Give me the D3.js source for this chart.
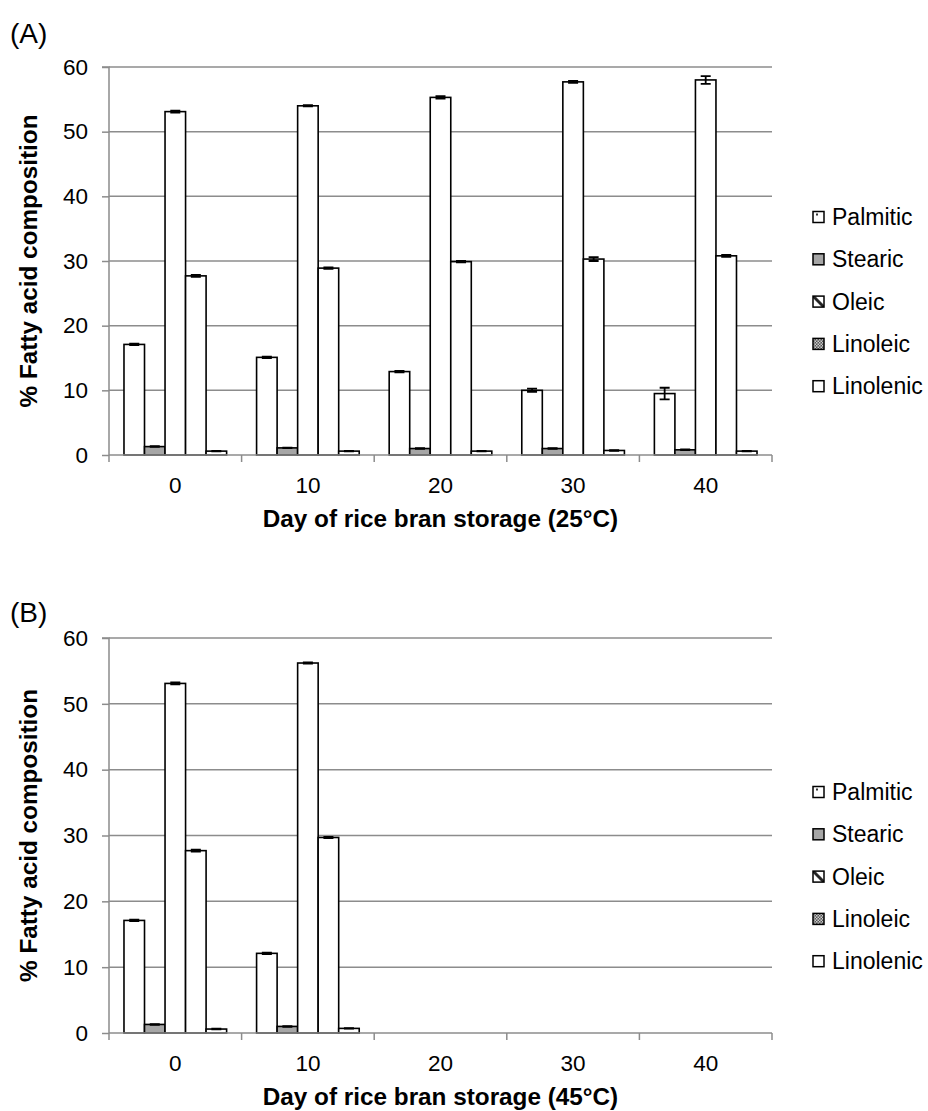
<!DOCTYPE html>
<html><head><meta charset="utf-8">
<script src="https://cdn.jsdelivr.net/npm/d3@7"></script>
<style>body{margin:0;background:#fff}svg{display:block;font-family:"Liberation Sans",Arial,sans-serif}</style>
</head><body><svg id="c" width="928" height="1111"></svg>
<script>
const days = ["0","10","20","30","40"];
const acids = ["Palmitic","Stearic","Oleic","Linoleic","Linolenic"];
const yTicks = [0,10,20,30,40,50,60];
// Panel A (25°C): values per acid across days
const palmiticA = [17.1,15.1,12.9,10.0,9.5];
const stearicA  = [1.3,1.1,1.0,1.0,0.8];
const oleicA    = [53.1,54.0,55.3,57.7,58.0];
const linoleicA = [27.7,28.9,29.9,30.3,30.8];
const linolenicA= [0.6,0.6,0.6,0.7,0.6];
const errA = [[0.1,0.1,0.1,0.25,0.9],[0.05,0.05,0.05,0.05,0.05],[0.15,0.1,0.2,0.15,0.6],[0.15,0.1,0.1,0.3,0.15],[0.05,0.05,0.05,0.05,0.05]];
// Panel B (45°C)
const palmiticB = [17.1,12.1,null,null,null];
const stearicB  = [1.3,1.0,null,null,null];
const oleicB    = [53.1,56.2,null,null,null];
const linoleicB = [27.7,29.7,null,null,null];
const linolenicB= [0.6,0.7,null,null,null];
const errB = [[0.1,0.1],[0.05,0.05],[0.15,0.1],[0.15,0.1],[0.05,0.05]];

const fills = {Palmitic:"url(#pPalm)",Stearic:"#a6a6a6",Oleic:"url(#pOle)",Linoleic:"url(#pLin)",Linolenic:"#fff"};
const barFills = {Palmitic:"#fff",Stearic:"#a6a6a6",Oleic:"#fff",Linoleic:"#fff",Linolenic:"#fff"};

const svg = d3.select("#c");
const defs = svg.append("defs");
let p = defs.append("pattern").attr("id","pPalm").attr("patternUnits","objectBoundingBox").attr("width",1).attr("height",1);
p.append("rect").attr("width",11).attr("height",11).attr("fill","#fff");
p.append("rect").attr("x",3).attr("y",2).attr("width",2).attr("height",2).attr("fill","#333");
p = defs.append("pattern").attr("id","pOle").attr("patternUnits","objectBoundingBox").attr("width",1).attr("height",1);
p.append("rect").attr("width",11).attr("height",11).attr("fill","#fff");
p.append("path").attr("d","M0,0 L11,11").attr("stroke","#222").attr("stroke-width",3);
p = defs.append("pattern").attr("id","pLin").attr("patternUnits","userSpaceOnUse").attr("width",3).attr("height",3);
p.append("rect").attr("width",3).attr("height",3).attr("fill","#555");
p.append("rect").attr("width",1.5).attr("height",1.5).attr("fill","#ccc");
p.append("rect").attr("x",1.5).attr("y",1.5).attr("width",1.5).attr("height",1.5).attr("fill","#ccc");

function panel(cfg){
  const {label, labelY, top, bottom, left, right, series, errs, xTitle, legendX, legendY0, legendStep} = cfg;
  const g = svg.append("g");
  const y = d3.scaleLinear().domain([0,60]).range([bottom, top]);
  const x0 = d3.scaleBand().domain(days).range([left,right]).padding(0);
  const x1 = d3.scaleBand().domain(acids).range([0,x0.bandwidth()]).paddingOuter(0.73).paddingInner(0);
  g.selectAll(".grid").data(yTicks.slice(1)).join("line")
    .attr("x1",left).attr("x2",right).attr("y1",d=>y(d)).attr("y2",d=>y(d))
    .attr("stroke","#8c8c8c").attr("stroke-width",1.5);
  const ya = g.append("g").attr("transform",`translate(${left},0)`)
    .call(d3.axisLeft(y).tickValues(yTicks).tickSize(7).tickPadding(14));
  ya.select(".domain").attr("stroke","#8c8c8c").attr("stroke-width",1.5).attr("d",`M-7,${top}H0V${bottom}`);
  ya.selectAll(".tick line").attr("stroke","#8c8c8c").attr("stroke-width",1.5);
  ya.selectAll("text").attr("font-size",22.5).attr("fill","#000").attr("font-family","Liberation Sans, Arial, sans-serif");
  acids.forEach((a,i)=>{
    const vals = series[i];
    const gs = g.append("g");
    days.forEach((d,j)=>{
      const v = vals[j];
      if(v==null) return;
      const bx = x0(d)+x1(a);
      gs.append("rect").attr("x",bx).attr("y",y(v)).attr("width",x1.bandwidth()).attr("height",y(0)-y(v))
        .attr("fill",barFills[a]).attr("stroke","#000").attr("stroke-width",1.6);
      const e = errs[i][j];
      const cx = bx + x1.bandwidth()/2;
      gs.append("path").attr("d",`M${cx-5},${y(v+e)}H${cx+5}M${cx},${y(v+e)}V${y(v-e)}M${cx-5},${y(v-e)}H${cx+5}`)
        .attr("stroke","#000").attr("stroke-width",1.8).attr("fill","none");
    });
  });
  g.append("line").attr("x1",left).attr("x2",right).attr("y1",bottom).attr("y2",bottom).attr("stroke","#8c8c8c").attr("stroke-width",1.5);
  const bounds = days.map(d=>x0(d)).concat([right]);
  g.selectAll(".xt").data(bounds).join("line").attr("x1",d=>d).attr("x2",d=>d).attr("y1",bottom).attr("y2",bottom+7)
    .attr("stroke","#8c8c8c").attr("stroke-width",1.5);
  g.selectAll(".xl").data(days).join("text").attr("x",d=>x0(d)+x0.bandwidth()/2).attr("y",bottom+38)
    .attr("text-anchor","middle").attr("font-size",22.5).text(d=>d);
  g.append("text").attr("x",(left+right)/2).attr("y",bottom+72).attr("text-anchor","middle")
    .attr("font-size",24.3).attr("font-weight","bold").text(xTitle);
  g.append("text").attr("transform",`translate(37,${(top+bottom)/2}) rotate(-90)`).attr("text-anchor","middle")
    .attr("font-size",24.3).attr("font-weight","bold").text("% Fatty acid composition");
  g.append("text").attr("x",10).attr("y",labelY).attr("font-size",28).text(label);
  acids.forEach((a,i)=>{
    const ly = legendY0 + i*legendStep;
    g.append("rect").attr("x",legendX).attr("y",ly-5.5).attr("width",11).attr("height",11)
      .attr("fill",fills[a]).attr("stroke","#000").attr("stroke-width",1.5);
    g.append("text").attr("x",legendX+19).attr("y",ly+8).attr("font-size",23).text(a);
  });
}

panel({label:"(A)", labelY:43, top:67, bottom:455, left:109, right:772,
  series:[palmiticA,stearicA,oleicA,linoleicA,linolenicA], errs:errA,
  xTitle:"Day of rice bran storage (25°C)",
  legendX:813, legendY0:217, legendStep:42.3});
panel({label:"(B)", labelY:622, top:638, bottom:1033, left:109, right:772,
  series:[palmiticB,stearicB,oleicB,linoleicB,linolenicB], errs:errB,
  xTitle:"Day of rice bran storage (45°C)",
  legendX:813, legendY0:792, legendStep:42.3});
</script></body></html>
